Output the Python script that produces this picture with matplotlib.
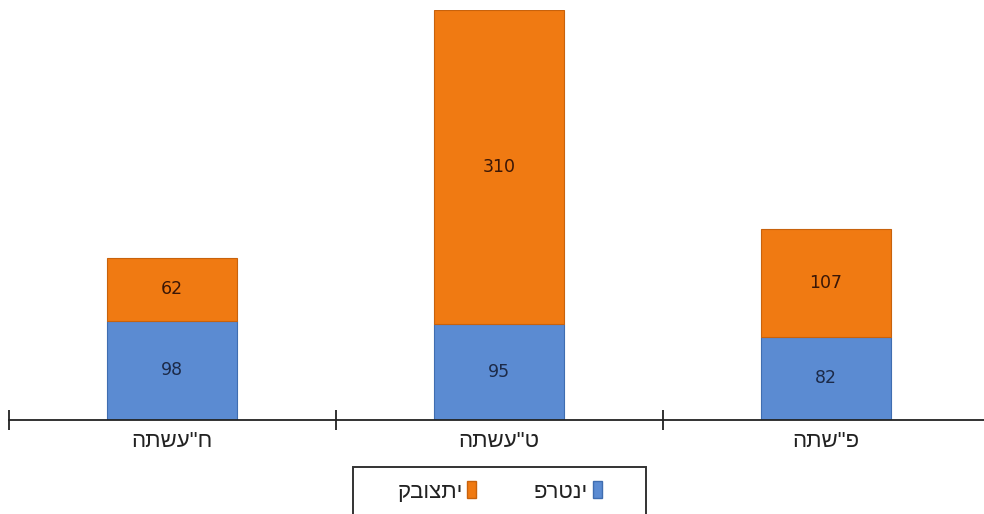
import matplotlib
matplotlib.use('Agg')
import matplotlib.pyplot as plt
from matplotlib.patches import Rectangle, Patch


years = ['התשע"ח', 'התשע"ט', 'התש"פ']
individual = [98, 95, 82]
group = [62, 310, 107]
series_names = ['פרטני', 'קבוצתי']

blue = '#5b8bd2'
orange = '#f07a12'
heb_font = ['Liberation Sans', 'DejaVu Sans']


def main():
    fig = plt.figure(figsize=(9.84, 5.14), dpi=100)
    ax = fig.add_axes([8.5 / 984, (514 - 420) / 514, 981 / 984, 410 / 514])

    x = list(range(len(years)))
    ax.bar(x, individual, width=0.4, color=blue, edgecolor='#3f6db0', linewidth=0.8)
    ax.bar(x, group, width=0.4, bottom=individual, color=orange,
           edgecolor='#c8620c', linewidth=0.8)

    for i in x:
        ax.text(i, individual[i] / 2, str(individual[i]), ha='center', va='center',
                fontsize=12.5, color='#1c2a48')
        ax.text(i, individual[i] + group[i] / 2, str(group[i]), ha='center', va='center',
                fontsize=12.5, color='#3a1606')

    ax.set_xlim(-0.5, 2.5)
    ax.set_ylim(0, 405)
    for s in ['top', 'right', 'left']:
        ax.spines[s].set_visible(False)
    ax.spines['bottom'].set_color('#222222')
    ax.spines['bottom'].set_linewidth(1.3)
    ax.set_yticks([])
    ax.set_xticks([-0.5, 0.5, 1.5, 2.5])
    ax.set_xticklabels([])
    ax.tick_params(axis='x', direction='inout', length=14, width=1.3, color='#222222')
    ax.set_xticks(x, minor=True)
    ax.set_xticklabels(years, minor=True, fontsize=16, color='#222222', family=heb_font)
    ax.tick_params(axis='x', which='minor', length=0, pad=8)

    # legend box (bottom is cut off in the original)
    fig.patches.append(Rectangle((353 / 984, (514 - 535) / 514), 293 / 984, 68 / 514,
                                 transform=fig.transFigure, fill=False,
                                 edgecolor='#333333', linewidth=1.4))
    handles = [Patch(facecolor=orange, edgecolor='#c8620c'),
               Patch(facecolor=blue, edgecolor='#3f6db0')]
    labels = [series_names[1], series_names[0]]
    fig.legend(handles, labels, loc='center', bbox_to_anchor=(499.5 / 984, 1 - 492 / 514),
               ncol=2, markerfirst=False, frameon=False,
               prop={'family': heb_font, 'size': 16},
               handlelength=0.4, handleheight=0.8, handletextpad=0.2,
               columnspacing=2.6, borderpad=0, labelcolor='#222222')

    fig.savefig('out.png', dpi=100)


main()
